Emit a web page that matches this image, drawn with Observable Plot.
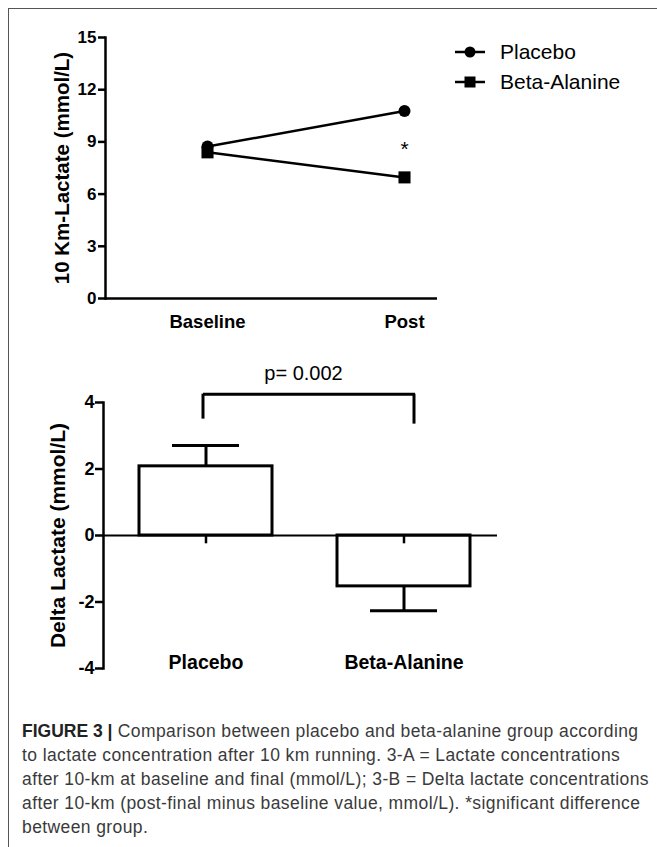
<!DOCTYPE html>
<html>
<head>
<meta charset="utf-8">
<script src="https://cdn.jsdelivr.net/npm/d3@7"></script>
<script src="https://cdn.jsdelivr.net/npm/@observablehq/plot@0.6"></script>
<style>
  html, body { margin: 0; padding: 0; background: #fff; }
  #wrap { position: relative; width: 657px; height: 847px; overflow: hidden; background: #fff; }
  #border { position: absolute; left: 8px; top: 8px; width: 800px; height: 900px;
            border-top: 1px solid #555; border-left: 1px solid #555; }
  #topChart { position: absolute; left: 0; top: 0; }
  #bottomChart { position: absolute; left: 0; top: 340px; }
  #legend { position: absolute; left: 452px; top: 37px; font-family: "Liberation Sans", Arial, sans-serif;
            font-size: 21px; color: #000; }
  #legend .row { display: flex; align-items: center; height: 30px; }
  #legend svg { margin-right: 14px; }
  #caption { position: absolute; left: 22px; top: 719px; width: 635px;
             font-family: "Liberation Sans", Arial, sans-serif; font-size: 17.5px; line-height: 24px;
             letter-spacing: 0.4px; color: #3a3a3a; white-space: nowrap; }
  #caption b { color: #222; letter-spacing: 0; }
  svg { overflow: visible; }
</style>
</head>
<body>
<div id="wrap">
  <div id="border"></div>
  <div id="topChart"></div>
  <div id="legend"></div>
  <div id="bottomChart"></div>
  <div id="caption"></div>
</div>
<script>
// ---------- data ----------
const timepoints = ["Baseline", "Post"];
const groups = ["Placebo", "Beta-Alanine"];
const placeboLactate = [8.73, 10.78];
const betaAlanineLactate = [8.4, 6.96];
const topTicks = [0, 3, 6, 9, 12, 15];
const topYLabel = "10 Km-Lactate (mmol/L)";
const significanceMark = "*";
const significanceY = 8.7;

const deltaMeans = [2.08, -1.53];
const deltaErrors = [0.63, 0.73];
const bottomTicks = [-4, -2, 0, 2, 4];
const bottomYLabel = "Delta Lactate (mmol/L)";
const pLabel = "p= 0.002";
const bracketTop = 4.25;
const bracketLegBottoms = [3.5, 3.35];

const captionLines = [
  ["FIGURE 3 |", " Comparison between placebo and beta-alanine group according"],
  ["", "to lactate concentration after 10 km running. 3-A = Lactate concentrations"],
  ["", "after 10-km at baseline and final (mmol/L); 3-B = Delta lactate concentrations"],
  ["", "after 10-km (post-final minus baseline value, mmol/L). *significant difference"],
  ["", "between group."]
];

const font = "'Liberation Sans', Arial, Helvetica, sans-serif";

// ---------- top chart ----------
const series = [placeboLactate, betaAlanineLactate];
const lineData = groups.flatMap((g, gi) =>
  timepoints.map((t, ti) => ({group: g, time: t, value: series[gi][ti]})));

const topPlot = Plot.plot({
  width: 657, height: 340,
  marginTop: 37, marginBottom: 42, marginLeft: 105, marginRight: 220,
  style: {fontFamily: font, color: "#000", background: "transparent"},
  x: {type: "point", domain: timepoints, range: [207, 404], padding: 0, label: null},
  y: {domain: [0, 15], label: null},
  marks: [
    Plot.axisY({ticks: topTicks, tickSize: 7, tickPadding: 2, strokeWidth: 2.5,
                fontSize: 17, fontWeight: "bold", label: null}),
    Plot.axisX({tickSize: 0, tickPadding: 16, fontSize: 18.5, fontWeight: "bold", label: null}),
    Plot.frame({anchor: "left", strokeWidth: 2.5}),
    Plot.ruleY([0], {strokeWidth: 2.5}),
    Plot.text([topYLabel], {frameAnchor: "left", textAnchor: "middle", lineAnchor: "middle", rotate: -90, dx: -43, fontSize: 20.5, fontWeight: "bold"}),
    Plot.line(lineData, {x: "time", y: "value", z: "group", stroke: "black", strokeWidth: 2.5}),
    Plot.dot(lineData.filter(d => d.group === groups[0]), {x: "time", y: "value", r: 6, fill: "black", symbol: "circle"}),
    Plot.dot(lineData.filter(d => d.group === groups[1]), {x: "time", y: "value", r: 6.8, fill: "black", symbol: "square"}),
    Plot.text([significanceMark], {x: () => timepoints[1], y: () => significanceY, dy: 2, fontSize: 21})
  ]
});
document.getElementById("topChart").appendChild(topPlot);

// ---------- legend ----------
const legend = document.getElementById("legend");
groups.forEach((g, i) => {
  const row = document.createElement("div");
  row.className = "row";
  const marker = i === 0
    ? '<circle cx="18" cy="7" r="5.5" fill="#000"/>'
    : '<rect x="12.5" y="1.5" width="11" height="11" fill="#000"/>';
  row.innerHTML = `<svg width="34" height="14"><line x1="3" x2="33" y1="7" y2="7" stroke="#000" stroke-width="2.5"/>${marker}</svg><span>${g}</span>`;
  legend.appendChild(row);
});

// ---------- bottom chart ----------
const bars = groups.map((g, i) => ({group: g, mean: deltaMeans[i], err: deltaErrors[i]}));
const errEnd = d => d.mean + Math.sign(d.mean) * d.err;

const bottomPlot = Plot.plot({
  width: 657, height: 350,
  marginTop: 62, marginBottom: 22, marginLeft: 103, marginRight: 160,
  style: {fontFamily: font, color: "#000", background: "transparent"},
  x: {type: "band", domain: groups, range: [73, 536], padding: 0.327, label: null, axis: null},
  y: {domain: [-4, 4], label: null},
  marks: [
    Plot.axisY({ticks: bottomTicks, tickSize: 8, tickPadding: 1, strokeWidth: 2.5,
                fontSize: 18, fontWeight: "bold", tickFormat: d => String(d), label: null}),
    Plot.frame({anchor: "left", strokeWidth: 2.5}),
    Plot.ruleX(bars, {x: "group", y1: "mean", y2: errEnd, strokeWidth: 3}),
    Plot.tickY(bars, {x: "group", y: errEnd, insetLeft: 33, insetRight: 33, strokeWidth: 3}),
    Plot.barY(bars, {x: "group", y: "mean", fill: "white", stroke: "black", strokeWidth: 3}),
    Plot.ruleY([0], {strokeWidth: 2}),
    Plot.ruleX(groups, {x: d => d, y1: 0, y2: -0.25, strokeWidth: 2.5}),
    Plot.text(groups, {x: d => d, frameAnchor: "bottom", lineAnchor: "middle", dy: -6, fontSize: 19.5, fontWeight: "bold"}),
    Plot.text([bottomYLabel], {frameAnchor: "left", textAnchor: "middle", lineAnchor: "middle", rotate: -90, dx: -45, fontSize: 21, fontWeight: "bold"}),
    // significance bracket
    Plot.ruleY([bracketTop], {x1: () => groups[0], x2: () => groups[1], insetLeft: 64, insetRight: 55, strokeWidth: 3}),
    Plot.ruleX([groups[0]], {x: d => d, y1: () => bracketLegBottoms[0], y2: () => bracketTop, dx: -3, strokeWidth: 3}),
    Plot.ruleX([groups[1]], {x: d => d, y1: () => bracketLegBottoms[1], y2: () => bracketTop, dx: 10, strokeWidth: 3}),
    Plot.text([pLabel], {frameAnchor: "top", dx: 3, dy: -37, fontSize: 20})
  ]
});
document.getElementById("bottomChart").appendChild(bottomPlot);

// ---------- caption ----------
const caption = document.getElementById("caption");
caption.innerHTML = captionLines.map(([b, t]) => `<div>${b ? `<b>${b}</b>` : ""}${t}</div>`).join("");
</script>
</body>
</html>
